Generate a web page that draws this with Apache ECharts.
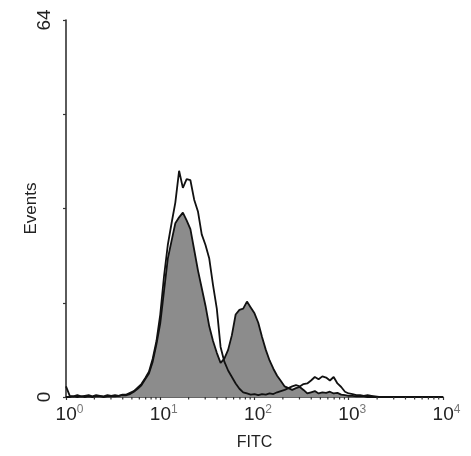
<!DOCTYPE html>
<html><head><meta charset="utf-8">
<script src="https://cdn.jsdelivr.net/npm/echarts@6/dist/echarts.min.js"></script>
<style>html,body{margin:0;padding:0;background:#fff}#c{width:471px;height:456px}</style>
</head><body><div id="c"></div>
<script>
// Histogram bin positions as log10 exponents (0 .. 4, step 0.04)
const logBins = Array.from({length: 101}, (_, i) => +(i * 0.04).toFixed(2));

// Open (unfilled, black outline) histogram counts
const openCounts = [
  1.8, 0.2, 0.1, 0.3, 0.1, 0.2, 0.3, 0.1, 0.3, 0.2,
  0.1, 0.3, 0.2, 0.3, 0.2, 0.4, 0.4, 0.7, 1.0, 1.6,
  2.2, 3.2, 4.3, 6.5, 9.5, 14.0, 20.5, 25.8, 29.5, 33.0,
  38.4, 35.5, 37.0, 36.8, 33.5, 31.5, 27.6, 25.8, 23.5, 19.0,
  15.0, 8.5, 6.0, 4.5, 3.4, 2.3, 1.4, 0.8, 0.6, 0.4,
  0.5, 0.3, 0.5, 0.4, 0.6, 0.5, 0.8, 1.0, 1.2, 1.5,
  1.8, 2.0, 1.8, 2.2, 2.3, 2.8, 3.4, 3.0, 3.5, 3.3,
  2.8, 3.4, 2.3, 1.7, 0.9, 0.6, 0.5, 0.3, 0.3, 0.2,
  0.3, 0.2, 0.1, 0, 0, 0, 0, 0, 0, 0,
  0, 0, 0, 0, 0, 0, 0, 0, 0, 0,
  0
];

// Gray filled histogram counts
const filledCounts = [
  0, 0, 0.1, 0, 0.1, 0, 0.1, 0, 0.1, 0.1,
  0, 0.1, 0.1, 0.1, 0.2, 0.3, 0.3, 0.5, 0.9, 1.4,
  2.0, 3.0, 4.0, 6.0, 9.0, 12.5, 18.0, 23.5, 26.5, 29.5,
  30.5, 31.3, 30.0, 28.5, 25.0, 21.5, 18.5, 15.5, 12.0, 9.5,
  7.5, 5.8, 6.5, 8.0, 10.5, 14.0, 14.8, 15.0, 16.2, 15.2,
  14.2, 12.6, 10.2, 8.0, 6.2, 4.8, 3.6, 2.7, 1.8, 1.5,
  1.2, 1.5, 1.7, 1.2, 0.6, 0.8, 1.0, 0.6, 0.8, 0.7,
  0.9, 0.6, 0.7, 0.4, 0.3, 0.2, 0.2, 0.1, 0.1, 0.1,
  0, 0, 0, 0, 0, 0, 0, 0, 0, 0,
  0, 0, 0, 0, 0, 0, 0, 0, 0, 0,
  0
];

const xDecades = [0, 1, 2, 3, 4];
const yLabelValues = [0, 64];

const FONT = 'Liberation Sans, Arial, Helvetica, sans-serif';
const toPairs = arr => arr.map((v, i) => [Math.pow(10, logBins[i]), v]);

const minorTickValues = [];
for (let d = 0; d < xDecades.length - 1; d++) {
  for (let k = 2; k <= 9; k++) minorTickValues.push([k * Math.pow(10, xDecades[d]), 0]);
}

const chart = echarts.init(document.getElementById('c'));
chart.setOption({
  animation: false,
  textStyle: { fontFamily: FONT },
  grid: { left: 66, right: 28, top: 20, bottom: 54 },
  xAxis: {
    type: 'log', logBase: 10, min: 1, max: 10000,
    name: 'FITC', nameLocation: 'middle', nameGap: 38, nameMoveOverlap: false,
    nameTextStyle: { fontSize: 16, color: '#222', fontFamily: FONT },
    axisLine: { show: true, lineStyle: { color: '#333', width: 1.6 } },
    axisTick: { show: true, length: 3, lineStyle: { color: '#333', width: 1.2 } },
    splitLine: { show: false },
    axisLabel: {
      margin: 7,
      formatter: v => '{sp| }{b|10}{s|' + Math.round(Math.log10(v)) + '}',
      rich: {
        sp: { width: 7 },
        b: { fontSize: 19, color: '#222', fontFamily: FONT, lineHeight: 22 },
        s: { fontSize: 12, color: '#777', fontFamily: FONT, lineHeight: 12, verticalAlign: 'top' }
      }
    }
  },
  yAxis: {
    type: 'value', min: 0, max: 64, interval: 16,
    name: 'Events', nameLocation: 'middle', nameRotate: 90, nameGap: 26, nameMoveOverlap: false,
    nameTextStyle: { fontSize: 17, color: '#222', fontFamily: FONT },
    axisLine: { show: true, lineStyle: { color: '#333', width: 1.6 } },
    axisTick: { show: true, length: 3, lineStyle: { color: '#333', width: 1.2 } },
    splitLine: { show: false },
    axisLabel: {
      rotate: 90, margin: 12, fontSize: 19, color: '#222', fontFamily: FONT,
      formatter: v => yLabelValues.includes(v) ? String(v) : ''
    }
  },
  series: [
    {
      type: 'line', data: toPairs(filledCounts), symbol: 'none',
      lineStyle: { color: '#111', width: 1.8 },
      areaStyle: { color: '#8c8c8c', opacity: 1 },
      z: 2
    },
    {
      type: 'line', data: toPairs(openCounts), symbol: 'none',
      lineStyle: { color: '#111', width: 1.8 },
      z: 3
    },
    {
      type: 'custom', data: minorTickValues, clip: false, silent: true, z: 4,
      renderItem: (params, api) => {
        const p = api.coord([api.value(0), 1]);
        const base = params.coordSys.y + params.coordSys.height;
        return { type: 'line', shape: { x1: p[0], y1: base, x2: p[0], y2: base + 2.5 }, style: { stroke: '#333', lineWidth: 1.2 } };
      }
    }
  ]
});
</script></body></html>
